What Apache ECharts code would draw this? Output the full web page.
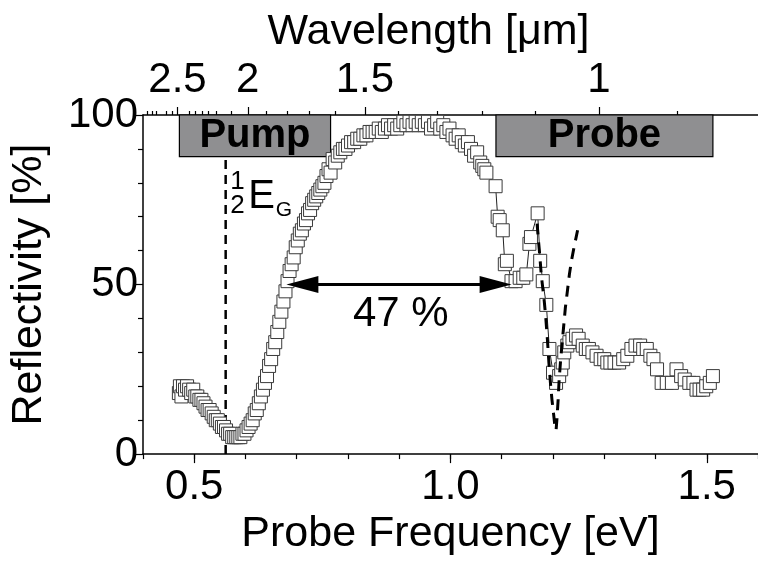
<!DOCTYPE html>
<html><head><meta charset="utf-8">
<script src="https://cdn.jsdelivr.net/npm/echarts@6/dist/echarts.min.js"></script>
<style>html,body{margin:0;padding:0;background:#fff}#c{width:758px;height:561px}</style>
</head><body><div id="c"></div>
<script>
// ---- data ----
const freqEV = [0.470,0.472,0.475,0.478,0.482,0.486,0.490,0.494,0.498,0.502,0.506,0.510,0.514,0.518,0.522,0.526,0.530,0.534,0.538,0.542,0.546,0.550,0.554,0.558,0.562,0.566,0.570,0.574,0.578,0.582,0.586,0.590,0.594,0.598,0.602,0.606,0.610,0.614,0.618,0.622,0.626,0.630,0.634,0.638,0.642,0.646,0.650,0.654,0.658,0.662,0.666,0.670,0.674,0.678,0.682,0.686,0.690,0.694,0.698,0.702,0.706,0.710,0.714,0.718,0.722,0.726,0.730,0.734,0.738,0.742,0.746,0.750,0.754,0.758,0.762,0.766,0.770,0.775,0.780,0.785,0.790,0.795,0.800,0.806,0.812,0.818,0.824,0.830,0.836,0.842,0.848,0.854,0.860,0.866,0.872,0.878,0.884,0.890,0.896,0.902,0.908,0.914,0.920,0.926,0.932,0.938,0.944,0.950,0.956,0.962,0.968,0.974,0.980,0.986,0.992,0.998,1.004,1.010,1.016,1.022,1.028,1.034,1.040,1.046,1.052,1.058,1.062,1.066,1.070,1.088,1.092,1.096,1.102,1.106,1.110,1.119,1.127,1.135,1.142,1.148,1.154,1.157,1.170,1.175,1.180,1.187,1.193,1.200,1.206,1.212,1.216,1.219,1.222,1.228,1.232,1.238,1.245,1.250,1.258,1.264,1.270,1.277,1.285,1.293,1.300,1.306,1.312,1.320,1.329,1.337,1.345,1.353,1.361,1.370,1.376,1.383,1.390,1.396,1.403,1.412,1.422,1.432,1.441,1.450,1.457,1.466,1.474,1.480,1.486,1.493,1.499,1.506,1.512];
const reflectivity = [18,20,17,20,19,20,19,18,19,17,17,16,16,15,14,13,13,12,11,10,10,9,8,8,7,6,6,5,5,5,5,5,6,6,7,8,9,10,12,13,15,17,19,21,23,26,28,31,33,36,39,42,45,48,51,54,56,58,61,63,65,66,68,69,71,72,74,75,76,77,78,79,80,82,84,83,87,86,88,89,90,90,91,92,92,93,93,94,94,95,95,95,96,95,96,97,96,97,96,97,98,97,98,97,98,97,98,97,98,96,97,98,96,97,95,96,94,93,94,92,91,92,90,88,89,86,85,84,83,79,70,69,66,56,57,51,51,52,52,53,62,64,71,57,51,44,31,24,21,23,25,27,30,32,33,34,35,34,32,31,31,30,29,28,28,27,27,27,27,28,29,31,32,32,31,31,29,28,25,21,21,21,25,23,22,21,21,19,19,19,20,21,23];
const modelEV = [1.169,1.171,1.174,1.177,1.180,1.183,1.186,1.189,1.192,1.195,1.198,1.201,1.204,1.206,1.208,1.210,1.212,1.215,1.218,1.221,1.224,1.228,1.232,1.236,1.241,1.248];
const modelR  = [68,64,59,53,49,45,40,34,27,21,16,12,8,7,11,16,22,28,33,38,43,48,53,57,61,66];
const freqTickLabels = [0.5, 1.0, 1.5];
const reflTickLabels = [0, 50, 100];
const wavelengthTickLabels = ['2.5', '2', '1.5', '1'];
const wavelengthMinor = [0.9,1.1,1.2,1.3,1.4,1.6,1.7,1.8,1.9,2.1,2.2,2.25,2.3,2.35,2.4,2.55,2.6,2.7,2.75,2.8];
const pumpBand = [0.471, 0.766];
const probeBand = [1.0887, 1.512];
const bandBottom = 87.7;
const halfGapEV = 0.5613;
const arrowEnds = [0.711, 1.088];   // arrow-head centres
const arrowLevel = 50;

// wavelength axis as drawn in the figure (position = 1.3708/lambda - 0.081 on the eV scale)
const lamToAxis = l => 1.3708 / l - 0.081;
const wavelengthMajorPos = wavelengthTickLabels.map(s => lamToAxis(parseFloat(s)));
const wavelengthMinorPos = wavelengthMinor.map(lamToAxis);

const FONT = 'Liberation Sans, Arial, Helvetica, sans-serif';
const dataPts = freqEV.map((x, i) => [x, reflectivity[i]]);
const modelPts = modelEV.map((x, i) => [x, modelR[i]]);

const chart = echarts.init(document.getElementById('c'), null, {renderer: 'canvas'});
const common = {type: 'value', min: 0.4, max: 1.6, splitLine: {show: false}};
chart.setOption({
  animation: false,
  backgroundColor: '#fff',
  grid: {left: 138, right: 0, top: 115, bottom: 106, containLabel: false},
  xAxis: [
    Object.assign({}, common, {
      position: 'bottom', interval: 0.1,
      axisLine: {show: true, lineStyle: {color: '#000', width: 1.5}},
      axisTick: {show: true, length: 5, lineStyle: {color: '#000', width: 1.2}},
      axisLabel: {customValues: freqTickLabels, formatter: v => v.toFixed(1), fontSize: 42, color: '#000', fontFamily: FONT, margin: 12},
      name: 'Probe Frequency [eV]', nameLocation: 'middle', nameGap: 56,
      nameTextStyle: {fontSize: 43, color: '#000', fontFamily: FONT}
    }),
    Object.assign({}, common, {
      position: 'bottom',
      axisLine: {show: false},
      axisTick: {show: true, customValues: freqTickLabels, length: 9, lineStyle: {color: '#000', width: 1.2}},
      axisLabel: {show: false}
    }),
    Object.assign({}, common, {
      position: 'top',
      axisLine: {show: true, lineStyle: {color: '#000', width: 1.5}},
      axisTick: {show: true, customValues: wavelengthMajorPos, length: 8, lineStyle: {color: '#000', width: 1.2}},
      axisLabel: {customValues: wavelengthMajorPos, fontSize: 42, color: '#000', fontFamily: FONT, margin: 14,
        formatter: v => { let b = 0; wavelengthMajorPos.forEach((p, i) => { if (Math.abs(p - v) < Math.abs(wavelengthMajorPos[b] - v)) b = i; }); return wavelengthTickLabels[b]; }},
      name: 'Wavelength [\u03bcm]', nameLocation: 'middle', nameGap: 55,
      nameTextStyle: {fontSize: 43, color: '#000', fontFamily: FONT, padding: [0, 44, 0, 0]}
    }),
    Object.assign({}, common, {
      position: 'top',
      axisLine: {show: false},
      axisTick: {show: true, customValues: wavelengthMinorPos, length: 4, lineStyle: {color: '#000', width: 1.2}},
      axisLabel: {show: false}
    })
  ],
  yAxis: [{
    type: 'value', min: 0, max: 100, interval: 50, position: 'left',
    splitLine: {show: false},
    axisLine: {show: true, lineStyle: {color: '#000', width: 1.5}},
    axisTick: {show: true, length: 8, lineStyle: {color: '#000', width: 1.2}},
    minorTick: {show: true, splitNumber: 5, length: 5, lineStyle: {color: '#000', width: 1.2}},
    axisLabel: {customValues: reflTickLabels, fontSize: 42, color: '#000', fontFamily: FONT, margin: 5},
    name: 'Reflectivity [%]', nameLocation: 'middle', nameGap: 92, nameRotate: 90,
    nameTextStyle: {fontSize: 43, color: '#000', fontFamily: FONT}
  }],
  series: [
    { // pump / probe bands
      type: 'line', data: [], z: 1, silent: true,
      markArea: {
        silent: true,
        itemStyle: {color: '#8f8f91', borderColor: '#000', borderWidth: 1.2},
        label: {show: true, position: 'inside', fontSize: 40, fontWeight: 'bold', color: '#000', fontFamily: FONT},
        data: [
          [{name: 'Pump', coord: [pumpBand[0], bandBottom]}, {coord: [pumpBand[1], 100]}],
          [{name: 'Probe', coord: [probeBand[0], bandBottom]}, {coord: [probeBand[1], 100]}]
        ]
      }
    },
    { // half band gap line
      type: 'line', data: [[halfGapEV, 0], [halfGapEV, bandBottom]], symbol: 'none', z: 2,
      lineStyle: {color: '#000', width: 2.5, type: [9, 6]}
    },
    { // measured reflectivity
      type: 'line', data: dataPts, z: 3,
      symbol: 'rect', symbolSize: 13, showAllSymbol: true,
      itemStyle: {color: '#fff', borderColor: '#3a3a3a', borderWidth: 1},
      lineStyle: {color: '#222', width: 1}
    },
    { // model curve
      type: 'line', data: modelPts, symbol: 'none', z: 4,
      lineStyle: {color: '#000', width: 3, type: [11, 8]}
    },
    { // arrow
      type: 'line', data: [], z: 5,
      markLine: {
        silent: true, symbol: ['triangle', 'triangle'], symbolSize: [17, 32],
        lineStyle: {color: '#000', width: 3, type: 'solid'},
        label: {show: false},
        data: [[{coord: [arrowEnds[0], arrowLevel]}, {coord: [arrowEnds[1], arrowLevel]}]]
      }
    },
    { // annotations
      type: 'scatter', symbolSize: 0, z: 6, silent: true,
      itemStyle: {opacity: 1},
      label: {show: true, position: 'inside', color: '#000', fontFamily: FONT},
      data: [
        {value: [0.903, 41.2], label: {formatter: '47 %', fontSize: 42}},
        {value: [0.5845, 80.3], label: {formatter: '1', fontSize: 26}},
        {value: [0.5845, 73.2], label: {formatter: '2', fontSize: 26}},
        {value: [0.6315, 75.7], label: {formatter: 'E', fontSize: 40}},
        {value: [0.675, 71.9], label: {formatter: 'G', fontSize: 21}}
      ]
    }
  ]
});
</script></body></html>
